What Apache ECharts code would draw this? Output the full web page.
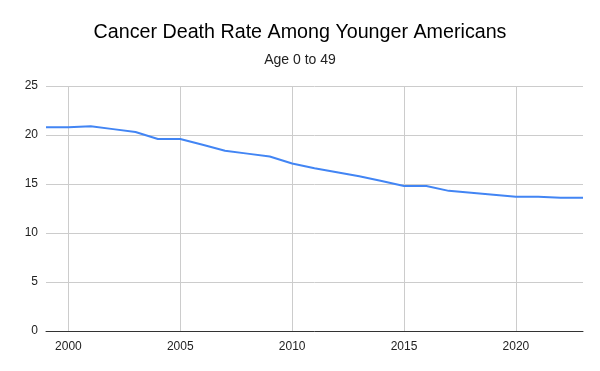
<!DOCTYPE html>
<html>
<head>
<meta charset="utf-8">
<script src="https://cdn.jsdelivr.net/npm/echarts@6/dist/echarts.min.js"></script>
<style>html,body{margin:0;padding:0;background:#fff;}#c{width:600px;height:371px;}</style>
</head>
<body>
<div id="c"></div>
<script>
const years = ['1999','2000','2001','2002','2003','2004','2005','2006','2007','2008','2009','2010','2011','2012','2013','2014','2015','2016','2017','2018','2019','2020','2021','2022','2023'];
const deathRate = [20.8,20.8,20.9,20.6,20.3,19.6,19.6,19.0,18.4,18.1,17.8,17.1,16.6,16.2,15.8,15.3,14.8,14.8,14.3,14.1,13.9,13.7,13.7,13.6,13.6];
const yTicks = [0,5,10,15,20,25];

const chart = echarts.init(document.getElementById('c'), null, {renderer:'canvas'});
const font = 'Liberation Sans, Arial, sans-serif';
chart.setOption({
  animation:false,
  title:[
    {text:'Cancer Death Rate Among Younger Americans', left:'center', top:18,
     textStyle:{fontFamily:font, fontSize:19.7, fontWeight:'normal', color:'#000'}},
    {text:'Age 0 to 49', left:'center', top:48,
     textStyle:{fontFamily:font, fontSize:14, fontWeight:'normal', color:'#222'}}
  ],
  grid:{left:46, right:17, top:86, bottom:40, containLabel:false},
  xAxis:{
    type:'category', data:years, boundaryGap:false,
    axisLine:{show:true, lineStyle:{color:'#333', width:1}},
    axisTick:{show:false},
    axisLabel:{interval:(i,v)=>Number(v)%5===0, color:'#222', fontFamily:font, fontSize:12, margin:10},
    splitLine:{show:true, interval:(i,v)=>Number(v)%5===0, lineStyle:{color:'#cccccc', width:1}}
  },
  yAxis:{
    type:'value', min:yTicks[0], max:yTicks[yTicks.length-1], interval:5,
    axisLine:{show:false}, axisTick:{show:false},
    axisLabel:{color:'#222', fontFamily:font, fontSize:12, margin:8},
    splitLine:{show:true, lineStyle:{color:'#cccccc', width:1}}
  },
  series:[{
    type:'line', data:deathRate, showSymbol:false, symbol:'none',
    lineStyle:{color:'#4285F4', width:2}, z:5
  }]
});
</script>
</body>
</html>
